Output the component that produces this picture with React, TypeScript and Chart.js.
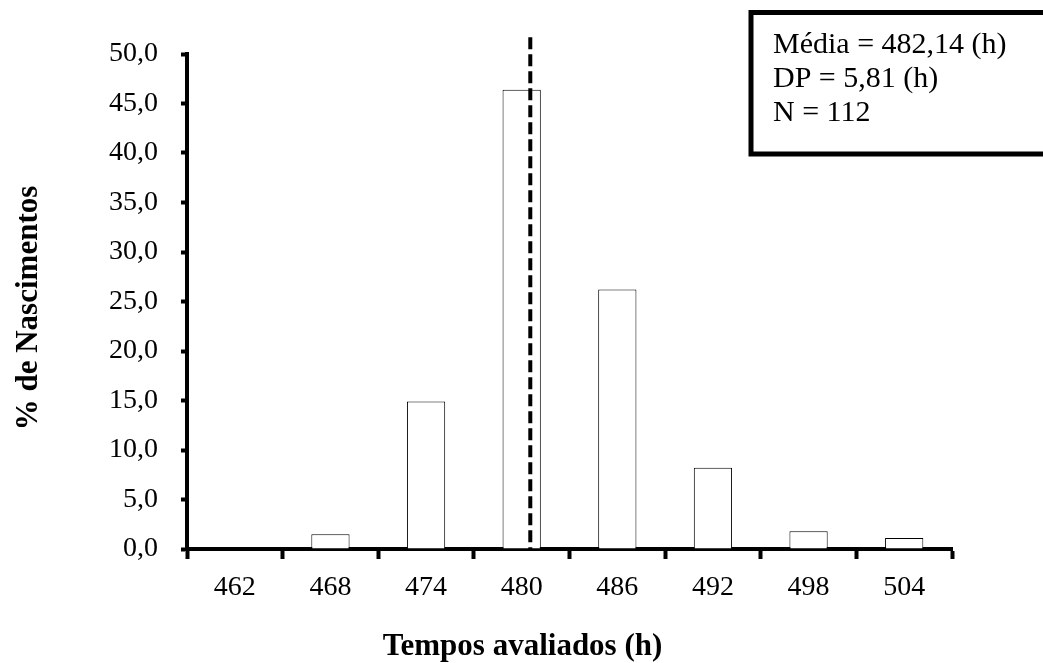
import React, { useEffect, useRef } from 'react';
import { Chart, registerables } from 'chart.js';

Chart.register(...registerables);

// ---- Data ----
const categories = ['462', '468', '474', '480', '486', '492', '498', '504'];
const percentBirths = [0, 1.5, 14.9, 46.4, 26.2, 8.2, 1.8, 1.1];
const yMin = 0;
const yMax = 50;
const yStep = 5;
const statsLines = ['Média = 482,14 (h)', 'DP = 5,81 (h)', 'N = 112'];
// dashed mean marker, position expressed on the category axis (index units) as drawn in the source
const meanLinePosition = 3.09;
const meanLineTopValue = 51.7;
const xTitle = 'Tempos avaliados (h)';
const yTitle = '% de Nascimentos';

const SERIF = '"Liberation Serif", "Times New Roman", serif';

const overlayPlugin = {
  id: 'overlay',
  afterDatasetsDraw(chart: any) {
    const { ctx, scales } = chart;
    const x = scales.x;
    const y = scales.y;
    ctx.save();
    ctx.strokeStyle = '#000';
    ctx.lineWidth = 4;
    ctx.setLineDash([12, 5]);
    const px = x.getPixelForValue(meanLinePosition);
    ctx.beginPath();
    ctx.moveTo(px, y.getPixelForValue(meanLineTopValue));
    ctx.lineTo(px, y.getPixelForValue(0));
    ctx.stroke();
    ctx.restore();
  },
  afterDraw(chart: any) {
    const { ctx } = chart;
    ctx.save();
    // stats box
    ctx.strokeStyle = '#000';
    ctx.lineWidth = 5;
    ctx.setLineDash([]);
    ctx.strokeRect(751, 12.5, 330, 141.5);
    ctx.fillStyle = '#000';
    ctx.font = `30px ${SERIF}`;
    ctx.textAlign = 'left';
    ctx.textBaseline = 'alphabetic';
    const baselines = [53, 87, 120.5];
    statsLines.forEach((t, i) => ctx.fillText(t, 773, baselines[i]));

    // axis titles
    ctx.font = `bold 31px ${SERIF}`;
    ctx.textAlign = 'center';
    ctx.fillText(xTitle, 522.5, 655);

    ctx.translate(37, 308);
    ctx.rotate(-Math.PI / 2);
    ctx.fillText(yTitle, 0, 0);
    ctx.restore();
  },
};

export default function App() {
  const canvasRef = useRef<HTMLCanvasElement | null>(null);

  useEffect(() => {
    document.body.style.margin = '0';
    const canvas = canvasRef.current;
    if (!canvas) return;
    const chart = new Chart(canvas, {
      type: 'bar',
      data: {
        labels: categories,
        datasets: [
          {
            data: percentBirths,
            backgroundColor: '#ffffff',
            borderColor: '#000000',
            borderWidth: 1,
            barPercentage: 0.4,
            categoryPercentage: 1,
          },
        ],
      },
      options: {
        responsive: false,
        animation: false,
        devicePixelRatio: 1,
        layout: { padding: { left: 0, top: 54, right: 91, bottom: 0 } },
        plugins: {
          legend: { display: false },
          tooltip: { enabled: false },
          title: { display: false },
        },
        scales: {
          x: {
            type: 'category',
            offset: true,
            grid: {
              display: true,
              offset: true,
              drawOnChartArea: false,
              drawTicks: true,
              tickLength: 10,
              tickWidth: 4,
              tickColor: '#000',
            },
            border: { display: true, color: '#000', width: 4 },
            ticks: {
              color: '#000',
              font: { family: SERIF, size: 28 },
              padding: 12,
              maxRotation: 0,
              autoSkip: false,
            },
            afterFit: (s: any) => {
              s.height = 114;
            },
          },
          y: {
            min: yMin,
            max: yMax,
            grid: {
              display: true,
              drawOnChartArea: false,
              drawTicks: true,
              tickLength: 6,
              tickWidth: 4,
              tickColor: '#000',
            },
            border: { display: true, color: '#000', width: 4 },
            ticks: {
              stepSize: yStep,
              color: '#000',
              font: { family: SERIF, size: 28 },
              padding: 23,
              callback: (v: any) => Number(v).toFixed(1).replace('.', ','),
            },
            afterFit: (s: any) => {
              s.width = 187;
            },
          },
        },
      },
      plugins: [overlayPlugin],
    } as any);
    return () => chart.destroy();
  }, []);

  return (
    <div style={{ position: 'absolute', left: 0, top: 0, width: 1043, height: 663, background: '#fff' }}>
      <canvas ref={canvasRef} width={1043} height={663} style={{ display: 'block' }} />
    </div>
  );
}
